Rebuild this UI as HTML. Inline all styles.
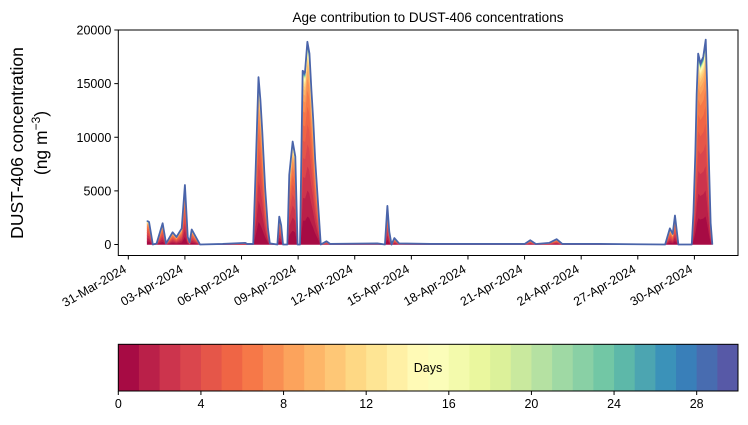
<!DOCTYPE html>
<html><head><meta charset="utf-8"><style>
body{margin:0;background:#fff;}
svg{display:block;font-family:"Liberation Sans",sans-serif;}
</style></head><body>
<svg id="c" width="748" height="425" xmlns="http://www.w3.org/2000/svg"></svg>
<script>
// data: day offset from 31-Mar-2024 00:00, total concentration (ng m-3)
const days = [1.0,1.1,1.3,1.5,1.82,2.0,2.35,2.55,2.83,3.0,3.15,3.25,3.36,3.8,5.0,6.2,6.3,6.62,6.75,6.9,7.0,7.1,7.25,7.4,7.5,7.9,8.0,8.1,8.2,8.43,8.53,8.71,8.85,8.97,9.1,9.24,9.36,9.49,9.6,9.7,9.8,9.9,10.0,10.2,10.5,10.7,13.2,13.6,13.73,13.83,13.95,14.1,14.35,16,19,21.0,21.3,21.6,22.3,22.7,23.0,25,28.45,28.7,28.85,28.97,29.15,29.86,29.95,30.05,30.12,30.2,30.32,30.47,30.6,30.68,30.78,30.86,30.95];
const totals = [2200,2100,0,100,1980,100,1140,700,1500,5550,700,200,1400,0,50,150,50,50,7000,15600,13500,10500,5300,1500,100,0,2600,1800,0,0,6500,9600,8200,0,0,16200,16000,18900,17800,14500,11600,8000,5300,0,300,50,100,0,3600,1200,0,600,100,50,50,50,400,50,150,500,50,50,0,1500,1000,2700,0,0,3000,8500,14000,17800,16900,17500,19100,14500,7000,2000,0];
const ageShares = [14,13,12,11,10,9,8,6,4,3,2,1.5,1,0.8,0.6,0.5,0.4,0.3,0.3,0.2,0.2,0.2,0.2,0.2,0.2,0.2,0.2,0.2,0.3,0.5];
const yTicks = [0,5000,10000,15000,20000];
const xTickLabels = ["31-Mar-2024","03-Apr-2024","06-Apr-2024","09-Apr-2024","12-Apr-2024","15-Apr-2024","18-Apr-2024","21-Apr-2024","24-Apr-2024","27-Apr-2024","30-Apr-2024"];
const cbTicks = [0,4,8,12,16,20,24,28];

const svg=document.getElementById('c');
const NS='http://www.w3.org/2000/svg';
function mk(t,a,p){const e=document.createElementNS(NS,t);for(const k in a)e.setAttribute(k,a[k]);(p||svg).appendChild(e);return e;}
const L=118.3,R=738,T=30,B=255.5;
const xs=d=>128.3+d*18.87;
const ys=v=>244.5-v*214.5/20000;
const spec=["#9e0142","#d53e4f","#f46d43","#fdae61","#fee08b","#ffffbf","#e6f598","#abdda4","#66c2a5","#3288bd","#5e4fa2"];
function hex(h){return [1,3,5].map(i=>parseInt(h.substr(i,2),16));}
function cmap(t){const p=t*10,i=Math.min(9,Math.floor(p)),f=p-i;const a=hex(spec[i]),b=hex(spec[i+1]);return 'rgb('+a.map((v,k)=>Math.round(v+(b[k]-v)*f)).join(',')+')';}

let t=mk('text',{x:428,y:22,'text-anchor':'middle','font-size':13.5});t.textContent='Age contribution to DUST-406 concentrations';

const yl=mk('text',{transform:'translate(23,143) rotate(-90)','text-anchor':'middle','font-size':17.5});yl.textContent='DUST-406 concentration';

const yl2=mk('text',{transform:'translate(47,143) rotate(-90)','text-anchor':'middle','font-size':17.5});
yl2.innerHTML='(ng m<tspan dy="-7" font-size="12">−3</tspan><tspan dy="7">)</tspan>';


const sum=ageShares.reduce((a,b)=>a+b,0);
const g=mk('g',{});
let cum=days.map(()=>0);
ageShares.forEach((s,i)=>{
  const lo=cum.slice();cum=cum.map((c,j)=>c+totals[j]*s/sum);
  let d='M'+days.map((x,j)=>xs(x).toFixed(2)+','+ys(cum[j]).toFixed(2)).join('L');
  for(let j=days.length-1;j>=0;j--)d+='L'+xs(days[j]).toFixed(2)+','+ys(lo[j]).toFixed(2);
  const p=mk('path',{d:d+'Z',fill:cmap((i+0.5)/30),stroke:cmap((i+0.5)/30),'stroke-width':0.6},g);
  
});
const tl=mk('path',{d:'M'+days.map((x,j)=>xs(x).toFixed(2)+','+ys(totals[j]).toFixed(2)).join('L'),fill:'none',stroke:'#4a64aa','stroke-width':1.8,'stroke-linejoin':'round'});


const fr=mk('rect',{x:L,y:T,width:R-L,height:B-T,fill:'none',stroke:'#000','stroke-width':1});

yTicks.forEach(v=>{
  mk('line',{x1:L-4,x2:L,y1:ys(v),y2:ys(v),stroke:'#000'});
  const e=mk('text',{x:L-7,y:ys(v)+4.5,'text-anchor':'end','font-size':12.5});e.textContent=v;
  
});
xTickLabels.forEach((s,i)=>{
  const x=xs(i*3);
  mk('line',{x1:x,x2:x,y1:B,y2:B+4,stroke:'#000'});
  const e=mk('text',{transform:'translate('+(x-1)+','+(B+16)+') rotate(-30)','text-anchor':'end','font-size':12.5});e.textContent=s;
  
});

const cb=mk('g',{});
const cL=118.3,cR=738,cT=344.3,cB=391,bw=(cR-cL)/30;
for(let i=0;i<30;i++)mk('rect',{x:cL+i*bw,y:cT,width:bw+0.5,height:cB-cT,fill:cmap((i+0.5)/30)},cb);
mk('rect',{x:cL,y:cT,width:cR-cL,height:cB-cT,fill:'none',stroke:'#000'},cb);
cbTicks.forEach(v=>{
  const x=cL+v*bw;mk('line',{x1:x,x2:x,y1:cB,y2:cB+4,stroke:'#000'},cb);
  const e=mk('text',{x:x,y:cB+17,'text-anchor':'middle','font-size':12.5},cb);e.textContent=v;
  
});
const dl=mk('text',{x:428,y:372,'text-anchor':'middle','font-size':12.5},cb);dl.textContent='Days';

</script>
</body></html>
